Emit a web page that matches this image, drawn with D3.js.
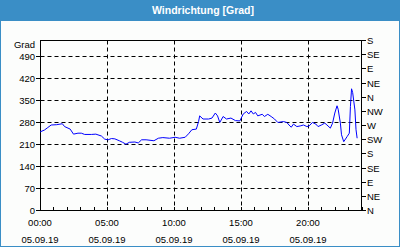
<!DOCTYPE html>
<html><head><meta charset="utf-8">
<script src="https://cdn.jsdelivr.net/npm/d3@7"></script>
<style>
html,body{margin:0;padding:0;background:#fff;}
svg{display:block;}
text{font-family:"Liberation Sans",Arial,sans-serif;}
</style></head>
<body><svg id="c" width="400" height="250"></svg>
<script>
const title = "Windrichtung [Grad]";
const unitLabel = "Grad";
const dateLabel = "05.09.19";
const times = ["00:00","00:20","00:35","00:50","01:15","01:40","01:50","02:15","02:30","02:50","03:05","03:20","03:50","04:10","04:35","04:50","05:05","05:20","05:35","05:55","06:10","06:25","06:40","07:05","07:20","07:35","07:55",
"08:30","08:50","09:10","09:40","10:05","10:25","10:50","11:05","11:20","11:40","11:50","11:55","12:10","12:35","12:50","13:05","13:15","13:25","13:40","13:55","14:15","14:35","14:55","15:10","15:25","15:35","15:45","15:55",
"16:05","16:15","16:35","16:45","17:00","17:15","17:30","17:45","18:10","18:25","18:35","18:45","18:55","19:10","19:25","19:40","19:55","20:05","20:20","20:35","20:45","21:00","21:15","21:25","21:40","21:50","22:00","22:10","22:15","22:25","22:30","22:40","22:55","23:05","23:10","23:15","23:20","23:30","23:35","23:40"];
const values = [248,254,262,270,271,274,265,257,241,244,244,240,240,241,235,225,223,227,226,220,215,209,215,216,213,223,223,
220,228,230,228,231,228,231,242,255,257,281,299,289,289,292,308,299,278,297,289,292,284,283,305,313,305,315,305,
310,299,304,297,304,297,289,278,281,278,270,263,273,265,267,270,265,267,278,273,265,270,276,270,260,276,308,331,320,276,239,217,233,244,329,385,373,318,255,228];
const leftTicks = [0,70,140,210,280,350,420,490];
const rightTicks = [0,45,90,135,180,225,270,315,360,405,450,495,540];
const rightLabels = ["N","NE","E","SE","S","SW","W","NW","N","NE","E","SE","S"];
const majorHours = [0,5,10,15,20];
const minorHours = d3.range(0,25,1);

const svg = d3.select("#c");
const W = 400, H = 250;
svg.append("rect").attr("x",0).attr("y",0).attr("width",W).attr("height",H).attr("fill","#ffffff");
svg.append("rect").attr("x",0.5).attr("y",0.5).attr("width",W-1).attr("height",246).attr("fill","#fcfdfc").attr("stroke","#3a8ec6").attr("stroke-width",1);
svg.append("rect").attr("x",0).attr("y",0).attr("width",W).attr("height",21).attr("fill","#3a8ec6");
svg.append("text").attr("x",203).attr("y",14).attr("text-anchor","middle").attr("fill","#fff")
  .attr("font-weight","bold").attr("font-size","10.5px").text(title);

const parse = s => { const [h,m] = s.split(":").map(Number); return h + m/60; };
const x = d3.scaleLinear().domain([0,24]).range([40,361.6]);
const y = d3.scaleLinear().domain([0,540]).range([210,40]);
const px = v => Math.round(x(v)) + 0.5;
const py = v => Math.round(y(v)) + 0.5;
const fs = "9.5px";

const g = svg.append("g");
g.selectAll(".hg").data(leftTicks.filter(d=>d>0)).join("line")
  .attr("x1",40.5).attr("x2",361.5).attr("y1",d=>py(d)).attr("y2",d=>py(d))
  .attr("stroke","#000").attr("stroke-dasharray","4,3");
g.selectAll(".vg").data(majorHours.filter(d=>d>0)).join("line")
  .attr("x1",d=>px(d)).attr("x2",d=>px(d)).attr("y1",40.5).attr("y2",210.5)
  .attr("stroke","#000").attr("stroke-dasharray","4,3");

g.selectAll(".mt").data(minorHours).join("line")
  .attr("x1",d=>px(d)).attr("x2",d=>px(d)).attr("y1",210.5).attr("y2",207)
  .attr("stroke","#000");
g.selectAll(".lt").data(leftTicks).join("line")
  .attr("x1",36).attr("x2",40.5).attr("y1",d=>py(d)).attr("y2",d=>py(d)).attr("stroke","#000");
g.selectAll(".ll").data(leftTicks).join("text")
  .attr("x",35).attr("y",d=>py(d)+3.5).attr("text-anchor","end").attr("font-size",fs).attr("fill","#000").text(d=>d);
g.append("text").attr("x",35).attr("y",48).attr("text-anchor","end").attr("font-size",fs).attr("fill","#000").text(unitLabel);
g.selectAll(".rt").data(rightTicks).join("line")
  .attr("x1",361.5).attr("x2",366).attr("y1",d=>py(d)).attr("y2",d=>py(d)).attr("stroke","#000");
g.selectAll(".rl").data(rightTicks).join("text")
  .attr("x",367).attr("y",(d)=>py(d)+3.5).attr("font-size",fs).attr("fill","#000").text((d,i)=>rightLabels[i]);
g.selectAll(".bl").data(majorHours).join("text")
  .attr("x",d=>x(d)).attr("y",226).attr("text-anchor","middle").attr("font-size",fs).attr("fill","#000")
  .text(d=>String(d).padStart(2,"0")+":00");
g.selectAll(".bd").data(majorHours).join("text")
  .attr("x",d=>x(d)).attr("y",243).attr("text-anchor","middle").attr("font-size",fs).attr("fill","#000")
  .text(dateLabel);

g.append("rect").attr("x",40.5).attr("y",40.5).attr("width",321).attr("height",170).attr("fill","none").attr("stroke","#000");

const data = times.map((t,i)=>({h:parse(t), v:values[i]}));
g.append("path").datum(data).attr("fill","none").attr("stroke","#0000ff").attr("stroke-width",1)
  .attr("d", d3.line().x(d=>x(d.h)).y(d=>y(d.v)));
</script></body></html>
